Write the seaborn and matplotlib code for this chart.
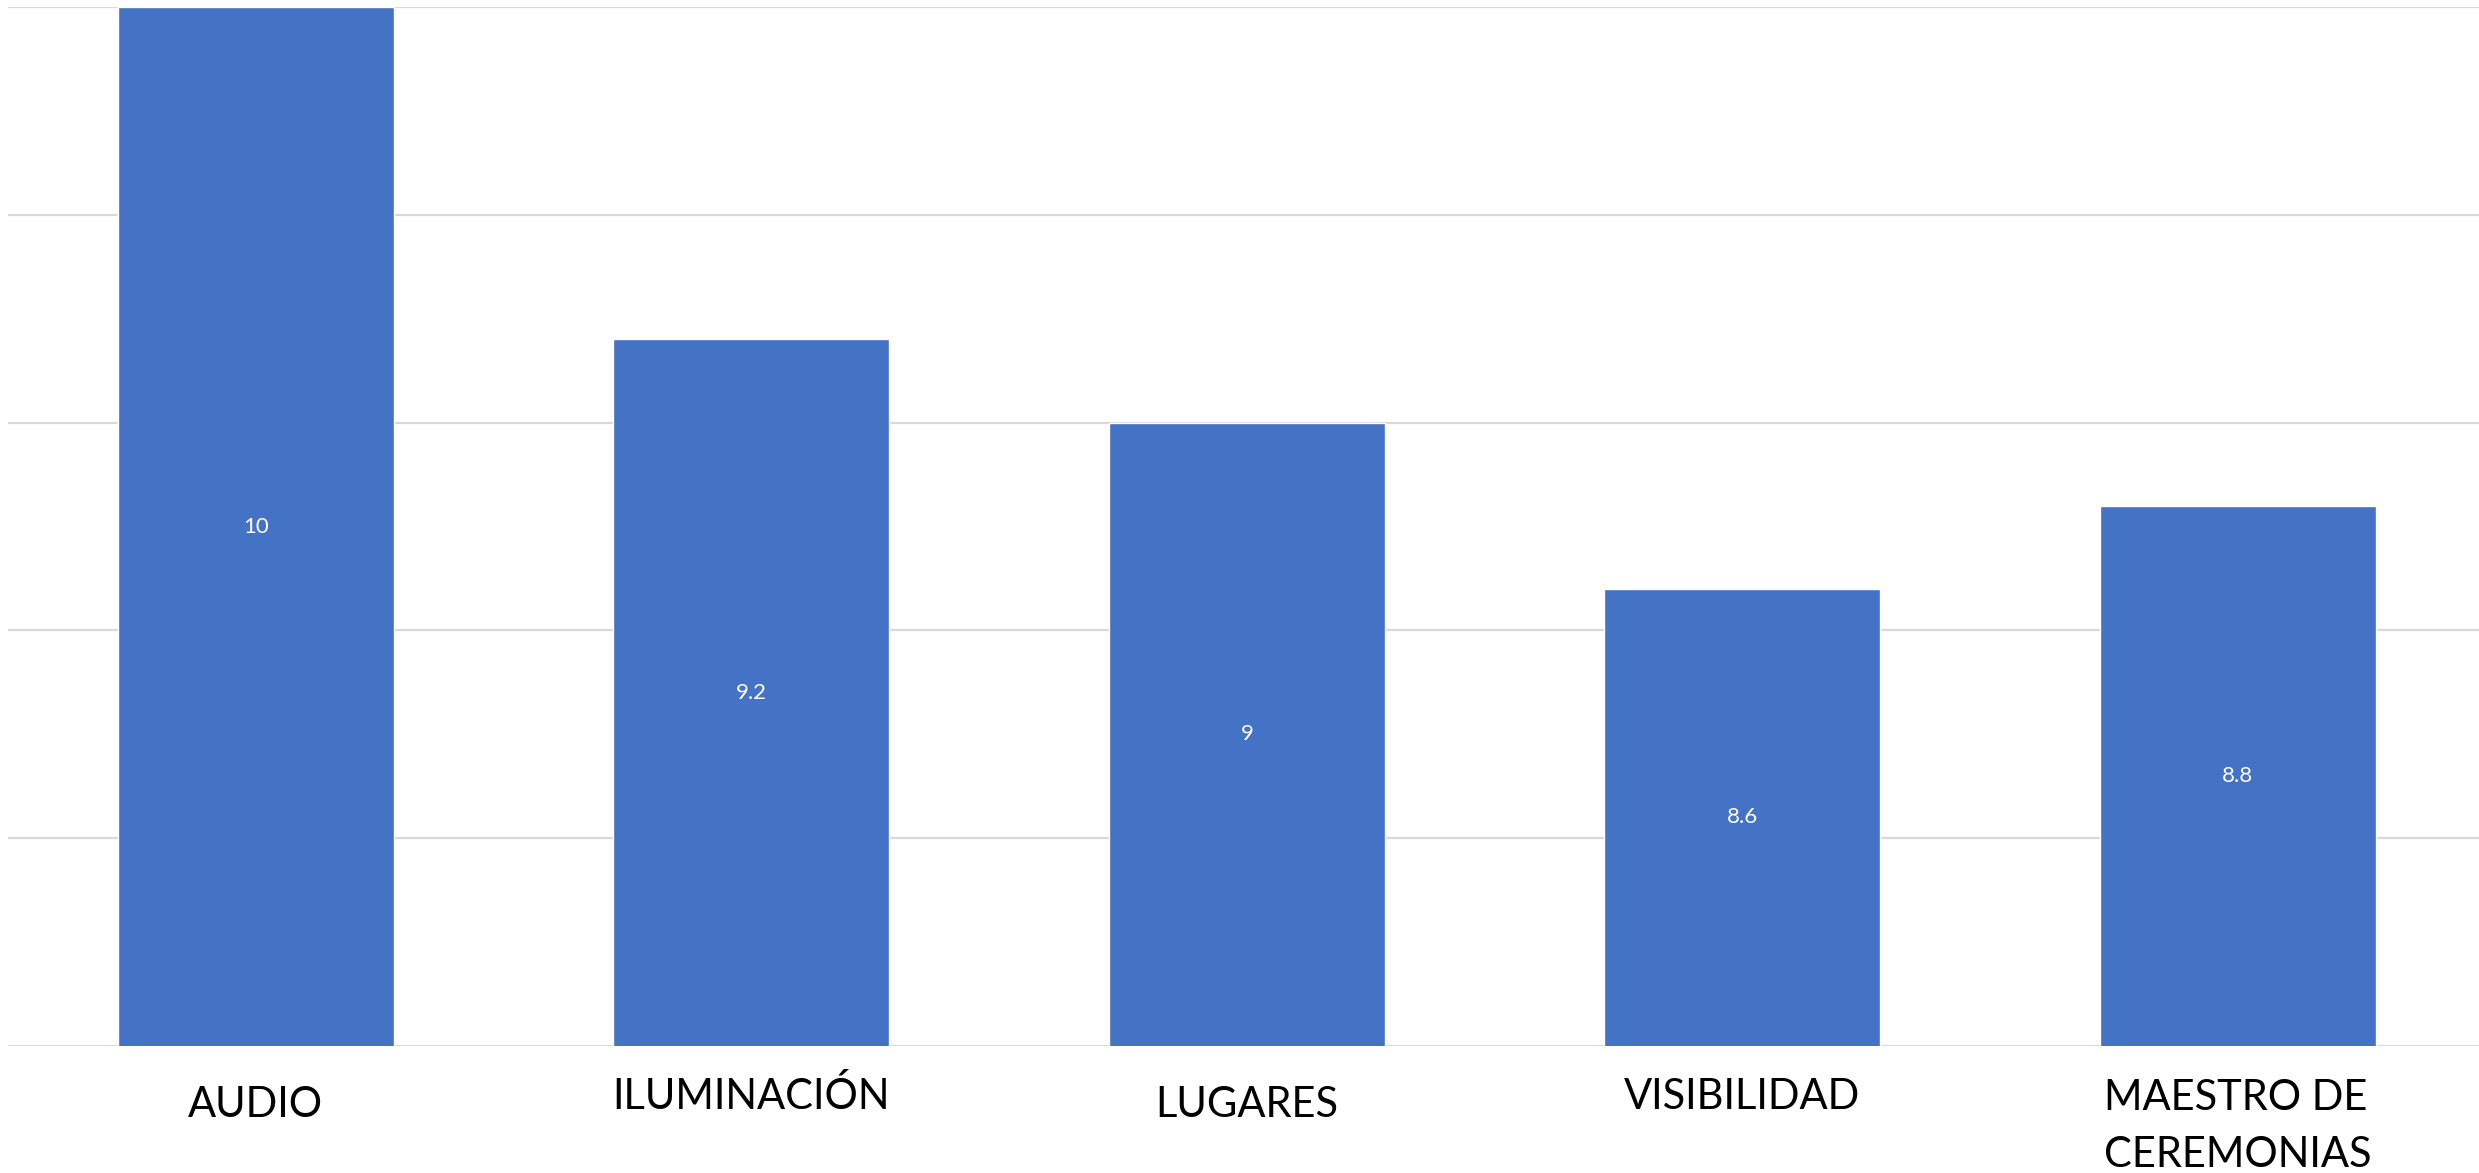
import matplotlib
matplotlib.use('Agg')
import matplotlib.pyplot as plt
import seaborn as sns
import pandas as pd

categories = ['AUDIO', 'ILUMINACIÓN', 'LUGARES', 'VISIBILIDAD', 'MAESTRO DE\nCEREMONIAS']
scores = [10, 9.2, 9, 8.6, 8.8]
y_min, y_max = 7.5, 10
value_labels = ['10', '9.2', '9', '8.6', '8.8']

df = pd.DataFrame({'categoria': categories, 'puntaje': scores})

sns.set_style('white')
plt.rcParams['font.family'] = ['Lato', 'DejaVu Sans']

fig = plt.figure(figsize=(24.79, 11.73), dpi=100)
ax = fig.add_axes([0.0033, 0.1083, 0.9994, 0.8857])

sns.barplot(data=df, x='categoria', y='puntaje', color='#4472C4', saturation=1,
            width=0.557, ax=ax, zorder=2)

ax.set_ylim(y_min, y_max)
ax.set_yticks([7.5, 8, 8.5, 9, 9.5, 10])
ax.set_yticklabels([])
ax.yaxis.grid(True, color='#d9d9d9', linewidth=1.6, zorder=0)
ax.set_axisbelow(True)
ax.tick_params(left=False, bottom=False)
for s in ax.spines.values():
    s.set_visible(False)
ax.set_xlabel('')
ax.set_ylabel('')

# category labels (Excel staggers them slightly); baseline of last line
ax.set_xticklabels([])
drops = [-0.0683, -0.0602, -0.0683, -0.0602, -0.1165]
for i, lab in enumerate(categories):
    ax.text(i, drops[i], lab, transform=ax.get_xaxis_transform(), ha='center',
            va='baseline', fontsize=30, color='black', linespacing=1.61,
            multialignment='left')

# values in the middle of the visible bar
for i, v in enumerate(scores):
    ax.text(i, (y_min + v) / 2, value_labels[i], ha='center', va='center',
            fontsize=16, color='white')

fig.savefig('out.png', dpi=100)
